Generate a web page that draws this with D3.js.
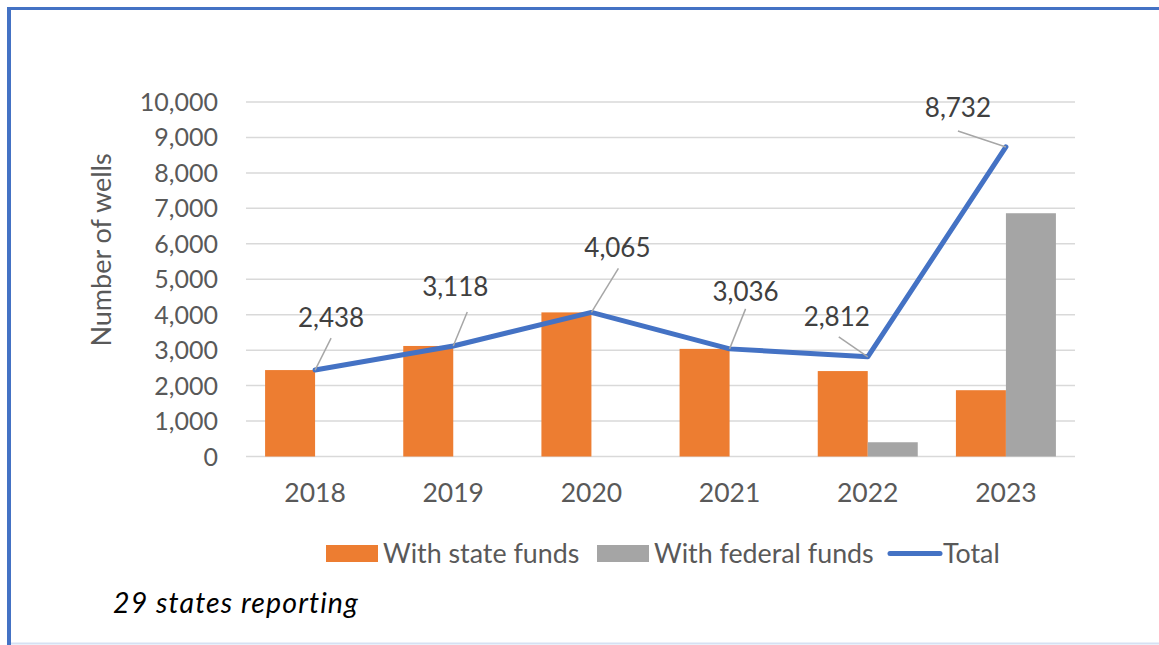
<!DOCTYPE html>
<html>
<head>
<meta charset="utf-8">
<script src="https://d3js.org/d3.v7.min.js"></script>
<style>
body { margin: 0; background: white; }
text { font-family: Lato, 'Liberation Sans', sans-serif; }
</style>
</head>
<body>
<svg width="1159" height="645"></svg>
<script>
// chart data
const years = ['2018', '2019', '2020', '2021', '2022', '2023']
const stateFunds = [2438, 3118, 4065, 3036, 2410, 1870]
const federalFunds = [0, 0, 0, 0, 402, 6862]
const totals = [2438, 3118, 4065, 3036, 2812, 8732]
const yTicks = [0, 1000, 2000, 3000, 4000, 5000, 6000, 7000, 8000, 9000, 10000]
const legendItems = ['With state funds', 'With federal funds', 'Total']

// label placement relative to each point (label centre, leader end)
const labelPos = [
	{ lx: 16, ly: -52, ex: 16, ey: -32 },
	{ lx: 2, ly: -59, ex: 14, ey: -34 },
	{ lx: 26, ly: -65, ex: 27, ey: -44 },
	{ lx: 16, ly: -57, ex: 16, ey: -40 },
	{ lx: -31, ly: -40, ex: -29, ey: -20 },
	{ lx: -48, ly: -39, ex: -48, ey: -16 }
]

const svg = d3.select('svg')
const fmt = d3.format(',')

// frame
svg.append('rect').attr('x', 0).attr('y', 0).attr('width', 1159).attr('height', 645).attr('fill', 'white')
svg.append('line').attr('x1', 9).attr('x2', 9).attr('y1', 7).attr('y2', 645)
	.attr('stroke', '#4472C4').attr('stroke-width', 4)
svg.append('line').attr('x1', 7).attr('x2', 1159).attr('y1', 8.5).attr('y2', 8.5)
	.attr('stroke', '#4472C4').attr('stroke-width', 3)
svg.append('line').attr('x1', 11).attr('x2', 1159).attr('y1', 643.5).attr('y2', 643.5)
	.attr('stroke', '#D6E1F3').attr('stroke-width', 2)

const x = d3.scaleBand().domain(years).range([246, 1075])
const y = d3.scaleLinear().domain([0, 10000]).range([456.5, 102])

// gridlines
svg.append('g').selectAll('line').data(yTicks).enter().append('line')
	.attr('x1', 246).attr('x2', 1075)
	.attr('y1', d => y(d)).attr('y2', d => y(d))
	.attr('stroke', '#D9D9D9').attr('stroke-width', 1.5)

// y axis labels
svg.append('g').selectAll('text').data(yTicks).enter().append('text')
	.attr('x', 218).attr('y', d => y(d))
	.attr('dy', '0.36em')
	.attr('text-anchor', 'end')
	.attr('font-size', 25)
	.attr('fill', '#595959')
	.text(d => fmt(d))

// x axis labels
svg.append('g').selectAll('text').data(years).enter().append('text')
	.attr('x', d => x(d) + x.bandwidth() / 2).attr('y', 502)
	.attr('text-anchor', 'middle')
	.attr('font-size', 26.5)
	.attr('fill', '#595959')
	.text(d => d)

svg.append('text')
	.attr('transform', 'translate(111,250) rotate(-90)')
	.attr('text-anchor', 'middle')
	.attr('font-size', 27)
	.attr('fill', '#595959')
	.text('Number of wells')

// bars
const barW = 50
svg.append('g').selectAll('rect').data(stateFunds).enter().append('rect')
	.attr('x', (d, i) => x(years[i]) + x.bandwidth() / 2 - barW)
	.attr('y', d => y(d))
	.attr('width', barW)
	.attr('height', d => y(0) - y(d))
	.attr('fill', '#ED7D31')

svg.append('g').selectAll('rect').data(federalFunds).enter().append('rect')
	.attr('x', (d, i) => x(years[i]) + x.bandwidth() / 2)
	.attr('y', d => y(d))
	.attr('width', barW)
	.attr('height', d => y(0) - y(d))
	.attr('fill', '#A5A5A5')

// total line
const px = i => x(years[i]) + x.bandwidth() / 2
const line = d3.line().x((d, i) => px(i)).y(d => y(d))
svg.append('path').datum(totals)
	.attr('d', line)
	.attr('fill', 'none')
	.attr('stroke', '#4472C4')
	.attr('stroke-width', 5)
	.attr('stroke-linejoin', 'round')
	.attr('stroke-linecap', 'round')

// leaders + data labels
svg.append('g').selectAll('line').data(totals).enter().append('line')
	.attr('x1', (d, i) => px(i)).attr('y1', d => y(d))
	.attr('x2', (d, i) => px(i) + labelPos[i].ex)
	.attr('y2', (d, i) => y(d) + labelPos[i].ey)
	.attr('stroke', '#A6A6A6').attr('stroke-width', 1.5)

svg.append('g').selectAll('text').data(totals).enter().append('text')
	.attr('x', (d, i) => px(i) + labelPos[i].lx)
	.attr('y', (d, i) => y(d) + labelPos[i].ly)
	.attr('dy', '0.36em')
	.attr('text-anchor', 'middle')
	.attr('font-size', 26)
	.attr('fill', '#404040')
	.text(d => fmt(d))

// legend
const legendX = [326, 597, 890]
const legend = svg.append('g')
legendItems.forEach((name, i) => {
	if (i < 2) {
		legend.append('rect')
			.attr('x', legendX[i]).attr('y', 545)
			.attr('width', 52).attr('height', 17)
			.attr('fill', i === 0 ? '#ED7D31' : '#A5A5A5')
	} else {
		legend.append('line')
			.attr('x1', legendX[i]).attr('x2', legendX[i] + 50)
			.attr('y1', 553.5).attr('y2', 553.5)
			.attr('stroke', '#4472C4').attr('stroke-width', 5)
			.attr('stroke-linecap', 'round')
	}
	legend.append('text')
		.attr('x', legendX[i] + (i < 2 ? 57 : 53)).attr('y', 553.5)
		.attr('dy', '0.36em')
		.attr('font-size', 26.8)
		.attr('fill', '#595959')
		.text(name)
})

svg.append('text')
	.attr('x', 113).attr('y', 613)
	.attr('font-size', 28.5)
	.attr('font-style', 'italic')
	.attr('letter-spacing', 1.1)
	.attr('fill', 'black')
	.text('29 states reporting')
</script>
</body>
</html>
